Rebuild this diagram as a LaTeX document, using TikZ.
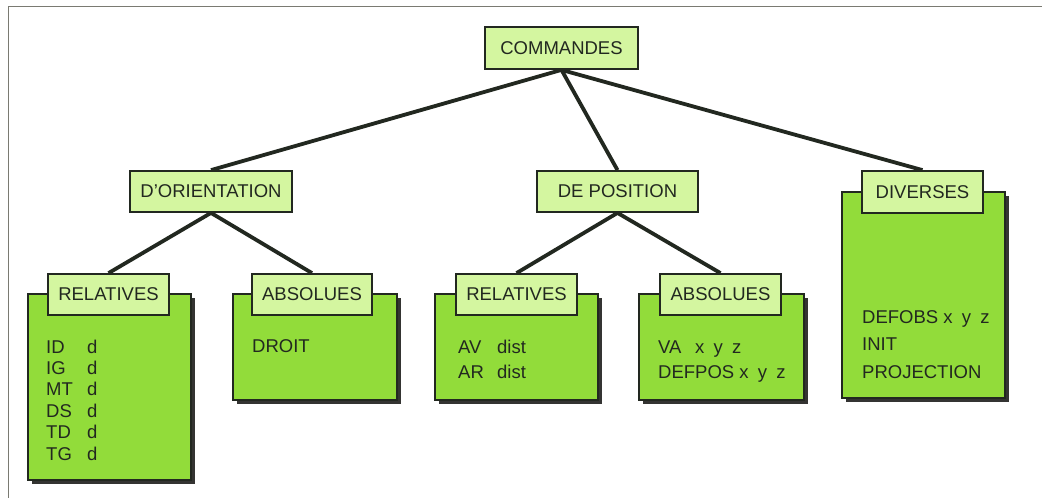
\documentclass[tikz,border=0pt]{standalone}
\usepackage{fontspec}
\setmainfont{Liberation Sans}
\usetikzlibrary{shadows}

\definecolor{vertclair}{RGB}{212,246,160}
\definecolor{vertvif}{RGB}{146,220,58}
\definecolor{encre}{RGB}{34,40,32}
\definecolor{ombre}{RGB}{52,52,50}
\definecolor{cadre}{RGB}{122,122,114}

\newcommand{\xyz}{x\hspace{0.5em}y\hspace{0.5em}z}

\begin{document}
\begin{tikzpicture}[x=1pt, y=-1pt,
    hdr/.style={draw=encre, line width=1.8pt, fill=vertclair, text=encre,
        minimum height=41pt, inner sep=0pt, font=\fontsize{18.5}{21}\selectfont},
    body/.style={draw=encre, line width=1.8pt, fill=vertvif, inner sep=0pt,
        drop shadow={shadow xshift=3.5pt, shadow yshift=-3.5pt, opacity=1, fill=ombre}},
    item/.style={text=encre, inner sep=0pt, anchor=base west,
        font=\fontsize{18.5}{21}\selectfont},
    link/.style={draw=encre, line width=3.8pt},
    ]
    % --- 定义参数 ---
    \def\gauche{46}   % 左列文字的 x
    \def\pas{21.4}    % 左列行距

    % --- 边框 ---
    \useasboundingbox (0,0) rectangle (1042,498);
    \draw[cadre, line width=1.5pt] (8.5,498) -- (8.5,6.5) -- (1042,6.5);

    % --- 内容框 (深绿色, 带阴影) ---
    \node[body, minimum width=163pt, minimum height=206pt] (divB) at (923.5,295) {};
    \node[body, minimum width=163pt, minimum height=186pt] (relLB) at (109.5,387) {};
    \node[body, minimum width=164pt, minimum height=106pt] (absLB) at (315,347) {};
    \node[body, minimum width=163pt, minimum height=106pt] (relMB) at (516.5,347) {};
    \node[body, minimum width=165pt, minimum height=106pt] (absRB) at (721.5,347) {};

    % --- 标题框 (浅绿色) ---
    \node[hdr, minimum width=153pt, minimum height=42pt] (cmd) at (561.5,48) {COMMANDES};
    \node[hdr, minimum width=162pt] (ori) at (211,191.5) {D’ORIENTATION};
    \node[hdr, minimum width=161pt] (pos) at (617.5,191.5) {DE POSITION};
    \node[hdr, minimum width=121pt, minimum height=42pt] (div) at (922.5,192) {DIVERSES};
    \node[hdr, minimum width=121pt] (relL) at (108.5,294.5) {RELATIVES};
    \node[hdr, minimum width=120pt] (absL) at (312,294.5) {ABSOLUES};
    \node[hdr, minimum width=121pt] (relM) at (516.5,294.5) {RELATIVES};
    \node[hdr, minimum width=121pt] (absR) at (720.5,294.5) {ABSOLUES};

    % --- 连线 ---
    \draw[link] (cmd.south) -- (ori.north);
    \draw[link] (cmd.south) -- (pos.north);
    \draw[link] (cmd.south) -- (div.north);
    \draw[link] (ori.south) -- (relL.north);
    \draw[link] (ori.south) -- (absL.north);
    \draw[link] (pos.south) -- (relM.north);
    \draw[link] (pos.south) -- (absR.north);

    % --- 命令列表 ---
    % 相对方向
    \foreach \c [count=\i] in {ID,IG,MT,DS,TD,TG}
        \node[item] (ro\i) at (\gauche, 353+\pas*\i-\pas) {\makebox[41pt][l]{\c}d};
    % 绝对方向
    \node[item] (droit) at (252,352) {DROIT};
    % 相对位置
    \node[item] (av) at (458,353) {\makebox[39pt][l]{AV}dist};
    \node[item] (ar) at (458,378) {\makebox[39pt][l]{AR}dist};
    % 绝对位置
    \node[item] (va) at (658,353) {\makebox[37pt][l]{VA}\xyz};
    \node[item] (defpos) at (658,378) {DEFPOS \xyz};
    % 其他
    \node[item] (defobs) at (862,323) {DEFOBS \xyz};
    \node[item] (init) at (862,350) {INIT};
    \node[item] (proj) at (862,378) {PROJECTION};

\end{tikzpicture}
\end{document}
